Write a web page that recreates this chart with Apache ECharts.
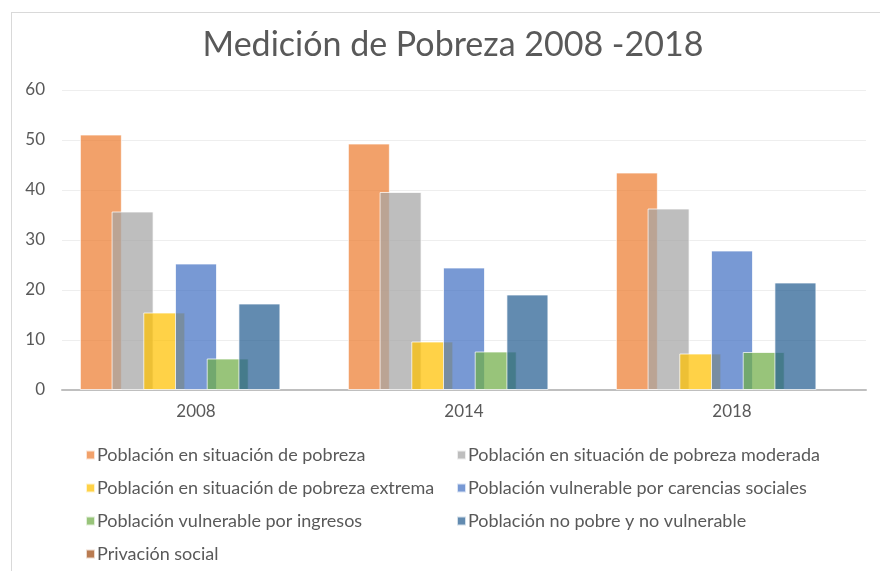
<!DOCTYPE html>
<html>
<head>
<meta charset="utf-8">
<script src="https://cdn.jsdelivr.net/npm/echarts@6/dist/echarts.min.js"></script>
<style>
html, body { margin: 0; padding: 0; background: #ffffff; }
.frame { position: absolute; left: 11px; top: 12px; width: 900px; height: 600px; border: 1px solid #D9D9D9; box-sizing: border-box; }
#chart { position: absolute; left: 0; top: 0; width: 880px; height: 571px; }
</style>
</head>
<body>
<div class="frame"></div>
<div id="chart"></div>
<script>
// datos
const years = ['2008', '2014', '2018']
const seriesNames = [
    'Población en situación de pobreza',
    'Población en situación de pobreza moderada',
    'Población en situación de pobreza extrema',
    'Población vulnerable por carencias sociales',
    'Población vulnerable por ingresos',
    'Población no pobre y no vulnerable',
    'Privación social'
]
const pobreza = [51.1, 49.3, 43.5]
const pobrezaModerada = [35.7, 39.6, 36.3]
const pobrezaExtrema = [15.5, 9.7, 7.3]
const vulnerableCarencias = [25.3, 24.5, 27.9]
const vulnerableIngresos = [6.3, 7.7, 7.6]
const noPobre = [17.3, 19.1, 21.5]
const privacionSocial = [null, null, null]
const yTicks = [0, 10, 20, 30, 40, 50, 60]

const colors = ['#ED7D31', '#A5A5A5', '#FFC000', '#4472C4', '#70AD47', '#255E91', '#9E480E']
const allData = [pobreza, pobrezaModerada, pobrezaExtrema, vulnerableCarencias, vulnerableIngresos, noPobre, privacionSocial]

const textColor = '#595959'
const font = 'Lato'

const chart = echarts.init(document.getElementById('chart'))

const series = allData.map((d, i) => {
    return {
        name: seriesNames[i],
        type: 'bar',
        data: d,
        barWidth: 42,
        barGap: '-24.5%',
        itemStyle: {
            color: colors[i],
            opacity: 0.72,
            borderColor: '#ffffff',
            borderWidth: 1
        }
    }
})

function makeLegend(idxs, left){
    return {
        orient: 'vertical',
        left: left,
        top: 441,
        itemGap: 15,
        itemWidth: 9,
        itemHeight: 9,
        icon: 'rect',
        itemStyle: { opacity: 0.72 },
        textStyle: { color: textColor, fontSize: 18, fontFamily: font, padding: [0, 0, 0, -3] },
        data: idxs.map(i => seriesNames[i])
    }
}

const options = {
    backgroundColor: 'transparent',
    color: colors,
    animation: false,
    title: {
        text: 'Medición de Pobreza 2008 -2018',
        left: 448,
        textAlign: 'center',
        top: 23,
        textStyle: { color: textColor, fontSize: 34, fontWeight: 'normal', fontFamily: font }
    },
    legend: [makeLegend([0, 2, 4, 6], 80), makeLegend([1, 3, 5], 451)],
    grid: { left: 62, right: 14, top: 90, bottom: 181 },
    xAxis: {
        type: 'category',
        data: years,
        axisLine: { lineStyle: { color: '#BFBFBF', width: 2 } },
        axisTick: { show: false },
        axisLabel: { color: textColor, fontSize: 17, fontFamily: font, margin: 13 }
    },
    yAxis: {
        type: 'value',
        min: yTicks[0],
        max: yTicks[yTicks.length - 1],
        interval: 10,
        axisLine: { show: false },
        axisTick: { show: false },
        axisLabel: { color: textColor, fontSize: 17, fontFamily: font, margin: 17 },
        splitLine: { lineStyle: { color: '#EEEEEE', width: 1 } }
    },
    series: series
}

chart.setOption(options)
</script>
</body>
</html>
